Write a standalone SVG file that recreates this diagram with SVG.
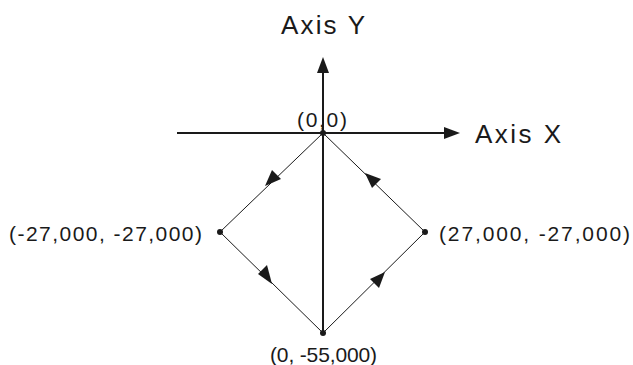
<svg xmlns="http://www.w3.org/2000/svg" width="633" height="365" viewBox="0 0 633 365">
<defs>
<style>
text{font-family:"Liberation Sans",Arial,sans-serif;fill:#1a1a1a}
.lbl{font-size:21px}
.ax{font-size:26px}
.axis{stroke:#1a1a1a;stroke-width:2;fill:none}
.path{stroke:#1a1a1a;stroke-width:1;fill:none}
.head{fill:#1a1a1a}
.dot{fill:#1a1a1a}
</style>
</defs>
<rect width="633" height="365" fill="#fff"/>
<g id="connectors">
<line class="axis" x1="177" y1="133" x2="446" y2="133"/>
<polygon class="head" points="460,133 444,127 444,139"/>
<line class="axis" x1="323" y1="333" x2="323" y2="70"/>
<polygon class="head" points="323,57 317,73 329,73"/>
<line class="path" x1="323" y1="133" x2="220" y2="232"/>
<line class="path" x1="220" y1="232" x2="323" y2="333"/>
<line class="path" x1="323" y1="333" x2="425" y2="232"/>
<line class="path" x1="425" y1="232" x2="323" y2="133"/>
<polygon class="head" points="265,186 272,170 281,179"/>
<polygon class="head" points="272,284 258,274 267,265"/>
<polygon class="head" points="385,272 379,288 370,279"/>
<polygon class="head" points="365,173 381,179 372,188"/>
</g>
<g id="axisY"><text class="ax" x="281" y="34" textLength="84" lengthAdjust="spacing">Axis Y</text></g>
<g id="axisX"><text class="ax" x="475" y="143" textLength="86" lengthAdjust="spacing">Axis X</text></g>
<g id="origin"><circle class="dot" cx="323" cy="133" r="3"/><text class="lbl" x="297" y="127" textLength="50" lengthAdjust="spacing">(0,0)</text></g>
<g id="left"><circle class="dot" cx="220" cy="232" r="3"/><text class="lbl" x="9" y="241" textLength="193" lengthAdjust="spacing">(-27,000, -27,000)</text></g>
<g id="right"><circle class="dot" cx="425" cy="232" r="3"/><text class="lbl" x="439" y="241" textLength="191" lengthAdjust="spacing">(27,000, -27,000)</text></g>
<g id="bottom"><circle class="dot" cx="323" cy="333" r="3"/><text class="lbl" x="270" y="362" textLength="107" lengthAdjust="spacing">(0, -55,000)</text></g>
</svg>
